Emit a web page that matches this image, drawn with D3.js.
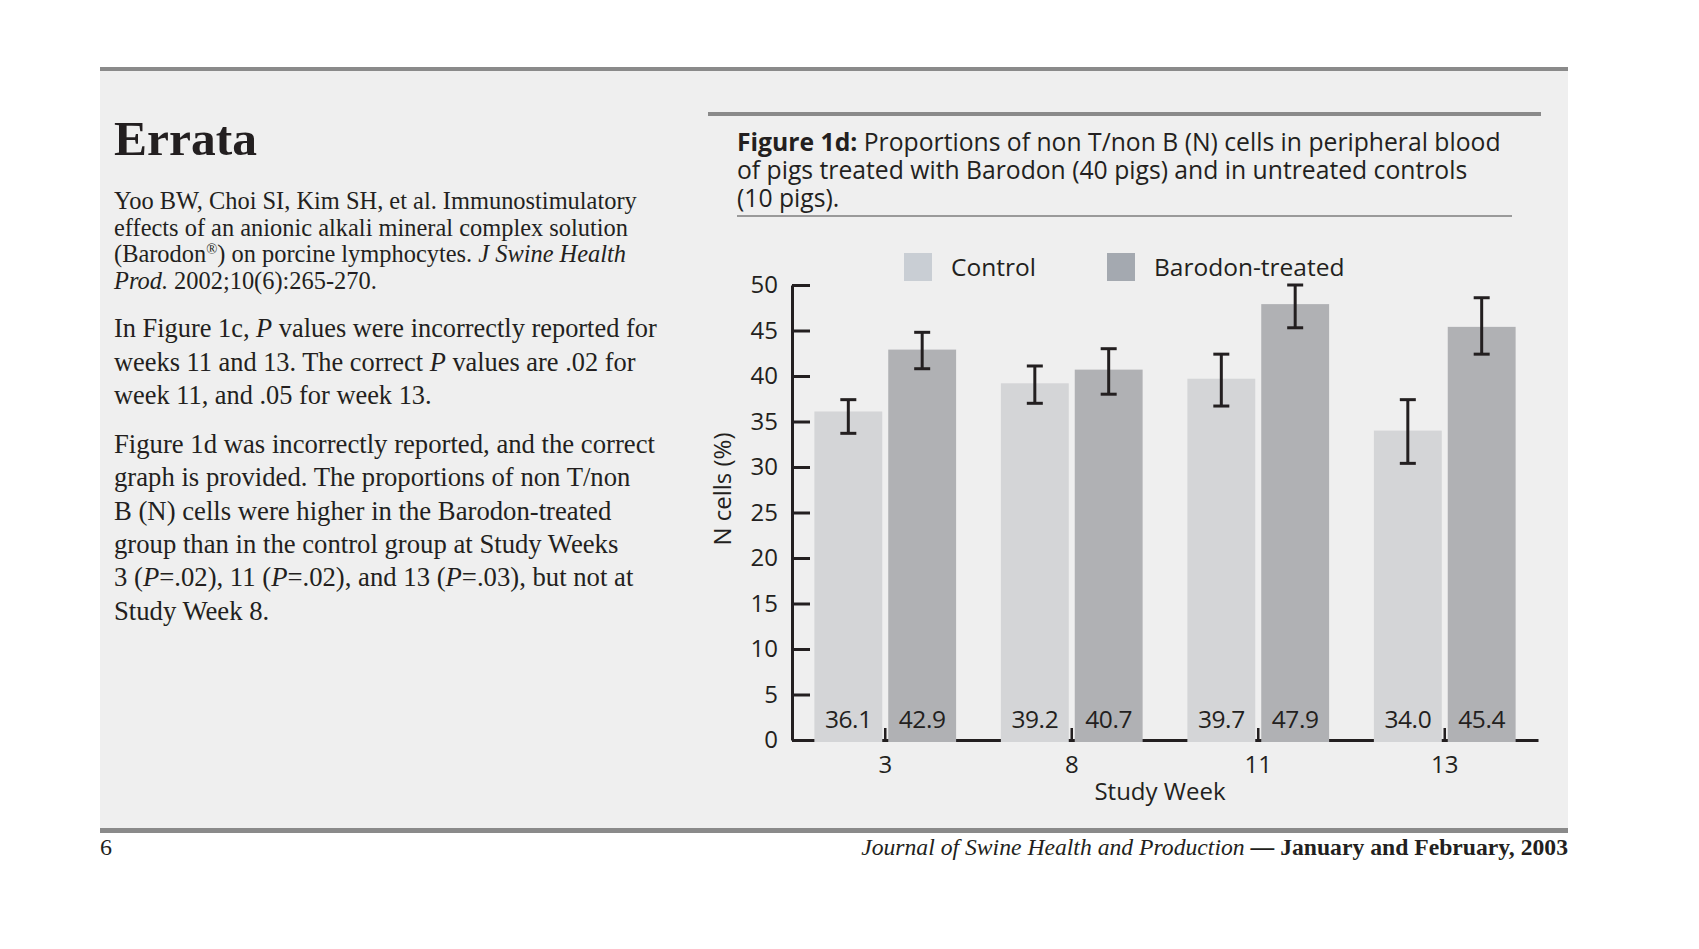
<!DOCTYPE html>
<html>
<head>
<meta charset="utf-8">
<script src="https://cdn.jsdelivr.net/npm/d3@7/dist/d3.min.js"></script>
<style>
  html, body { margin: 0; padding: 0; background: #ffffff; }
  svg { display: block; }
</style>
</head>
<body>
<svg id="chart" width="1699" height="949"></svg>
<script>
// ---------------- data ----------------
const weeks = ["3", "8", "11", "13"];
const seriesNames = ["Control", "Barodon-treated"];
const controlValues = [36.1, 39.2, 39.7, 34.0];
const treatedValues = [42.9, 40.7, 47.9, 45.4];
const controlErrLow = [33.7, 37.0, 36.7, 30.4];
const controlErrHigh = [37.4, 41.1, 42.4, 37.4];
const treatedErrLow = [40.8, 38.0, 45.3, 42.4];
const treatedErrHigh = [44.8, 43.0, 50.0, 48.6];
const valueLabels = ["36.1", "42.9", "39.2", "40.7", "39.7", "47.9", "34.0", "45.4"];
const yTicks = [0, 5, 10, 15, 20, 25, 30, 35, 40, 45, 50];
const xTitle = "Study Week";
const yTitle = "N cells (%)";
const figTitleBold = "Figure 1d:";
const figTitleLines = [
  " Proportions of non T/non B (N) cells in peripheral blood",
  "of pigs treated with Barodon (40 pigs) and in untreated controls",
  "(10 pigs)."
];

// left column text
const heading = "Errata";
const para1 = [
  [["Yoo BW, Choi SI, Kim SH, et al. Immunostimulatory", ""]],
  [["effects of an anionic alkali mineral complex solution", ""]],
  [["(Barodon", ""], ["®", "sup"], [") on porcine lymphocytes. ", ""], ["J Swine Health", "i"]],
  [["Prod.", "i"], [" 2002;10(6):265-270.", ""]]
];
const para2 = [
  [["In Figure 1c, ", ""], ["P", "i"], [" values were incorrectly reported for", ""]],
  [["weeks 11 and 13. The correct ", ""], ["P", "i"], [" values are .02 for", ""]],
  [["week 11, and .05 for week 13.", ""]]
];
const para3 = [
  [["Figure 1d was incorrectly reported, and the correct", ""]],
  [["graph is provided. The proportions of non T/non", ""]],
  [["B (N) cells were higher in the Barodon-treated", ""]],
  [["group than in the control group at Study Weeks", ""]],
  [["3 (", ""], ["P", "i"], ["=.02), 11 (", ""], ["P", "i"], ["=.02), and 13 (", ""], ["P", "i"], ["=.03), but not at", ""]],
  [["Study Week 8.", ""]]
];
const pageNumber = "6";
const footerItalic = "Journal of Swine Health and Production";
const footerRoman = " \u2014 January and February, 2003";

// ---------------- styles ----------------
const INK = "#231f20";
const SANS = "'Open Sans', 'Noto Sans', sans-serif";
const SERIF = "'Liberation Serif', 'DejaVu Serif', serif";
const barColors = ["#d4d5d7", "#b0b1b4"];
const legendColors = ["#c9ced4", "#a4a9b0"];

const svg = d3.select("#chart");

// page panel
svg.append("rect").attr("x", 100).attr("y", 70).attr("width", 1468).attr("height", 760).attr("fill", "#efefef");
svg.append("rect").attr("x", 100).attr("y", 67).attr("width", 1468).attr("height", 4).attr("fill", "#8a8a8a");
svg.append("rect").attr("x", 100).attr("y", 828).attr("width", 1468).attr("height", 5).attr("fill", "#8a8a8a");

function fitSize(node, base, target) {
  let w;
  if (node.getComputedTextLength) w = node.getComputedTextLength();
  else w = node.getBBox().width;
  return base * target / w;
}

// heading
const h = svg.append("text").attr("x", 114).attr("y", 155)
  .attr("font-family", SERIF).attr("font-weight", "bold").attr("font-size", 50)
  .attr("fill", INK).text(heading);
h.attr("font-size", fitSize(h.node(), 50, 143));

// paragraphs: one text element per paragraph, lines as tspans
function drawPara(lines, x, y0, step, target) {
  const t = svg.append("text").attr("x", x).attr("y", y0)
    .attr("font-family", SERIF).attr("font-size", 20).attr("fill", INK);
  const firstLineSpans = [];
  lines.forEach((segs, i) => {
    segs.forEach(([s, st], k) => {
      const ts = t.append("tspan").text(s);
      if (k === 0) ts.attr("x", x).attr("y", y0 + i * step);
      if (st === "i") ts.attr("font-style", "italic");
      if (st === "sup") ts.attr("font-size", "0.6em").attr("baseline-shift", "super");
      if (i === 0) firstLineSpans.push(ts.node());
    });
  });
  const w = d3.sum(firstLineSpans, n => n.getComputedTextLength());
  t.attr("font-size", 20 * target / w);
}
drawPara(para1, 114, 209, 26.5, 523);
drawPara(para2, 114, 337, 33.5, 543);
drawPara(para3, 114, 453, 33.3, 541);

// footer
svg.append("text").attr("x", 100).attr("y", 855).attr("font-family", SERIF)
  .attr("font-size", 24).attr("fill", INK).text(pageNumber);
const ft = svg.append("text").attr("x", 1568).attr("y", 855).attr("text-anchor", "end")
  .attr("font-family", SERIF).attr("font-size", 24).attr("fill", INK);
ft.append("tspan").attr("font-style", "italic").text(footerItalic);
ft.append("tspan").attr("font-weight", "bold").text(footerRoman);
ft.attr("font-size", fitSize(ft.node(), 24, 707));

// figure title block
svg.append("rect").attr("x", 708).attr("y", 112).attr("width", 833).attr("height", 4).attr("fill", "#8a8a8a");
svg.append("rect").attr("x", 737).attr("y", 215).attr("width", 775).attr("height", 2).attr("fill", "#9a9a9a");
const tt = svg.append("text").attr("x", 737).attr("y", 151)
  .attr("font-family", SANS).attr("font-size", 24).attr("fill", INK);
const l1a = tt.append("tspan").attr("x", 737).attr("y", 151).attr("font-weight", "bold").text(figTitleBold);
const l1b = tt.append("tspan").text(figTitleLines[0]);
figTitleLines.slice(1).forEach((s, i) => {
  tt.append("tspan").attr("x", 737).attr("y", 151 + (i + 1) * 28).text(s);
});
const w1 = l1a.node().getComputedTextLength() + l1b.node().getComputedTextLength();
tt.attr("font-size", 24 * 764 / w1);

// ---------------- chart ----------------
const y = d3.scaleLinear().domain([0, 50]).range([740, 285]);
const x0 = d3.scaleBand().domain(weeks).range([792, 1538]).paddingInner(0.24).paddingOuter(0.12);
const x1 = d3.scaleBand().domain(seriesNames).range([0, x0.bandwidth()]).paddingInner(6 / 74);

const values = [controlValues, treatedValues];
const errLow = [controlErrLow, treatedErrLow];
const errHigh = [controlErrHigh, treatedErrHigh];

// x axis (line + small upward ticks)
const xAxis = svg.append("g").attr("transform", `translate(0,${y(0)})`)
  .call(d3.axisBottom(x0).tickSizeInner(-12).tickSizeOuter(0).tickPadding(16));
xAxis.select(".domain").attr("stroke", INK).attr("stroke-width", 3);
xAxis.selectAll(".tick line").attr("stroke", INK).attr("stroke-width", 2.5);
xAxis.selectAll(".tick text").attr("font-family", SANS).attr("font-size", 24).attr("fill", INK);

// y axis
const yAxis = svg.append("g").attr("transform", "translate(792,0)")
  .call(d3.axisLeft(y).tickValues(yTicks).tickSizeInner(-18).tickSizeOuter(0).tickPadding(14));
yAxis.select(".domain").attr("stroke", INK).attr("stroke-width", 3);
yAxis.selectAll(".tick line").attr("stroke", INK).attr("stroke-width", 3);
yAxis.selectAll(".tick text").attr("font-family", SANS).attr("font-size", 24).attr("fill", INK);

// bars
const barData = [];
weeks.forEach((w, i) => {
  seriesNames.forEach((s, j) => {
    barData.push({ w, s, j, v: values[j][i], lo: errLow[j][i], hi: errHigh[j][i], label: valueLabels[i * 2 + j] });
  });
});
const bars = svg.append("g");
bars.selectAll("rect").data(barData).join("rect")
  .attr("x", d => x0(d.w) + x1(d.s))
  .attr("y", d => y(d.v))
  .attr("width", x1.bandwidth())
  .attr("height", d => y(0) - y(d.v) + 2)
  .attr("fill", d => barColors[d.j]);

// value labels
bars.selectAll("text").data(barData).join("text")
  .attr("x", d => x0(d.w) + x1(d.s) + x1.bandwidth() / 2)
  .attr("y", y(0) - 12)
  .attr("text-anchor", "middle")
  .attr("font-family", SANS).attr("font-size", 24.5).attr("letter-spacing", -0.4)
  .attr("fill", INK)
  .text(d => d.label);

// error bars
const eg = svg.append("g").attr("stroke", INK).attr("stroke-width", 3).attr("fill", "none");
barData.forEach(d => {
  const cx = x0(d.w) + x1(d.s) + x1.bandwidth() / 2;
  eg.append("line").attr("x1", cx).attr("x2", cx).attr("y1", y(d.hi)).attr("y2", y(d.lo));
  eg.append("line").attr("x1", cx - 8).attr("x2", cx + 8).attr("y1", y(d.hi)).attr("y2", y(d.hi));
  eg.append("line").attr("x1", cx - 8).attr("x2", cx + 8).attr("y1", y(d.lo)).attr("y2", y(d.lo));
});

// axis titles
svg.append("text").attr("x", 1160).attr("y", 800).attr("text-anchor", "middle")
  .attr("font-family", SANS).attr("font-size", 24).attr("fill", INK).text(xTitle);
svg.append("text").attr("transform", "translate(731,489) rotate(-90)").attr("text-anchor", "middle")
  .attr("font-family", SANS).attr("font-size", 24).attr("fill", INK).text(yTitle);

// legend
const legendX = [904, 1107];
const lg = svg.append("g");
seriesNames.forEach((s, j) => {
  lg.append("rect").attr("x", legendX[j]).attr("y", 253).attr("width", 28).attr("height", 28).attr("fill", legendColors[j]);
  lg.append("text").attr("x", legendX[j] + 47).attr("y", 276)
    .attr("font-family", SANS).attr("font-size", 24.5).attr("fill", INK).text(s);
});
</script>
</body>
</html>
